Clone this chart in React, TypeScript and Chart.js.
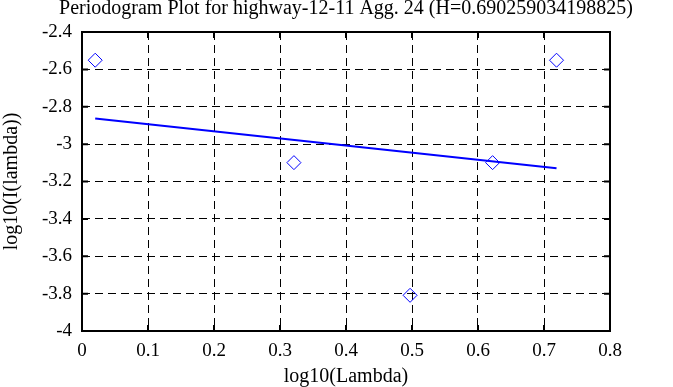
import React, { useEffect, useRef } from "react";
import { Chart, registerables } from "chart.js";

Chart.register(...registerables);

// log10 of frequency (lambda) and log10 of periodogram value I(lambda)
const logLambda = [0.02, 0.3211, 0.4971, 0.6221, 0.719];
const logPeriodogram = [-2.551, -3.099, -3.809, -3.099, -2.551];
// least-squares fit line end points
const fitX = [0.02, 0.719];
const fitY = [-2.8635, -3.1295];

const xMin = 0;
const xMax = 0.8;
const xStep = 0.1;
const yMin = -4;
const yMax = -2.4;
const yStep = 0.2;

const titleText = "Periodogram Plot for highway-12-11 Agg. 24 (H=0.690259034198825)";
const xTitle = "log10(Lambda)";
const yTitle = "log10(I(lambda))";

const FONT = "'Liberation Serif', 'Times New Roman', serif";

const topTitle = {
  id: "topTitle",
  afterDraw(chart: any) {
    const { ctx, chartArea } = chart;
    ctx.save();
    ctx.fillStyle = "#000";
    ctx.font = `20px ${FONT}`;
    ctx.textAlign = "center";
    ctx.textBaseline = "alphabetic";
    ctx.fillText(titleText, (chartArea.left + chartArea.right) / 2, 13.5);
    ctx.restore();
  },
};

const frameAndTicks = {
  id: "frameAndTicks",
  afterDraw(chart: any) {
    const { ctx, chartArea } = chart;
    const { left, right, top, bottom } = chartArea;
    const xs = chart.scales.x;
    const ys = chart.scales.y;
    ctx.save();
    ctx.strokeStyle = "#000";
    ctx.lineWidth = 2;
    ctx.setLineDash([]);
    ctx.beginPath();
    xs.ticks.forEach((t: any) => {
      const px = xs.getPixelForValue(t.value);
      ctx.moveTo(px, bottom);
      ctx.lineTo(px, bottom - 6);
      ctx.moveTo(px, top);
      ctx.lineTo(px, top + 6);
    });
    ys.ticks.forEach((t: any) => {
      const py = ys.getPixelForValue(t.value);
      ctx.moveTo(left, py);
      ctx.lineTo(left + 6, py);
      ctx.moveTo(right, py);
      ctx.lineTo(right - 6, py);
    });
    ctx.stroke();
    ctx.strokeRect(left, top, right - left, bottom - top);
    ctx.restore();
  },
};

const fmt = (v: number) => String(Math.round(v * 10) / 10);

export default function App() {
  const ref = useRef<HTMLCanvasElement | null>(null);

  useEffect(() => {
    document.body.style.margin = "0";
    const canvas = ref.current;
    if (!canvas) return;
    const chart = new Chart(canvas, {
      type: "scatter",
      data: {
        datasets: [
          {
            label: "fit",
            data: fitX.map((x, i) => ({ x, y: fitY[i] })),
            showLine: true,
            borderColor: "#0000ff",
            borderWidth: 2,
            pointRadius: 0,
            fill: false,
          },
          {
            label: "periodogram",
            data: logLambda.map((x, i) => ({ x, y: logPeriodogram[i] })),
            showLine: false,
            pointStyle: "rectRot",
            pointRadius: 7,
            pointBorderWidth: 1,
            borderColor: "#0000ff",
            backgroundColor: "rgba(0,0,0,0)",
            pointBackgroundColor: "rgba(0,0,0,0)",
          },
        ],
      },
      plugins: [frameAndTicks, topTitle],
      options: {
        responsive: false,
        animation: false,
        devicePixelRatio: 1,
        layout: { padding: { left: 0, right: 63, top: 32, bottom: 0 } },
        plugins: {
          legend: { display: false },
          tooltip: { enabled: false },
          title: { display: false },
        },
        scales: {
          x: {
            type: "linear",
            min: xMin,
            max: xMax,
            afterFit: (s: any) => {
              s.height = 56;
            },
            ticks: {
              stepSize: xStep,
              color: "#000",
              padding: 9,
              font: { family: FONT, size: 19 },
              callback: (v: any) => fmt(Number(v)),
              maxRotation: 0,
            },
            grid: { color: "#000", lineWidth: 1, drawTicks: false },
            border: { display: false, dash: [8, 5] },
            title: {
              display: true,
              text: xTitle,
              color: "#000",
              font: { family: FONT, size: 20, lineHeight: 1 },
              padding: { top: 0, bottom: 0 },
            },
          },
          y: {
            type: "linear",
            min: yMin,
            max: yMax,
            afterFit: (s: any) => {
              s.width = 82;
            },
            ticks: {
              stepSize: yStep,
              color: "#000",
              padding: 10,
              font: { family: FONT, size: 19 },
              callback: (v: any) => fmt(Number(v)),
            },
            grid: { color: "#000", lineWidth: 1, drawTicks: false },
            border: { display: false, dash: [8, 5] },
            title: {
              display: true,
              text: yTitle,
              color: "#000",
              font: { family: FONT, size: 20, lineHeight: 1 },
              padding: { top: 1.5, bottom: 0 },
            },
          },
        },
      },
    } as any);
    return () => chart.destroy();
  }, []);

  return (
    <div style={{ width: 673, height: 387, background: "#fff" }}>
      <canvas ref={ref} width={673} height={387} style={{ display: "block" }} />
    </div>
  );
}
